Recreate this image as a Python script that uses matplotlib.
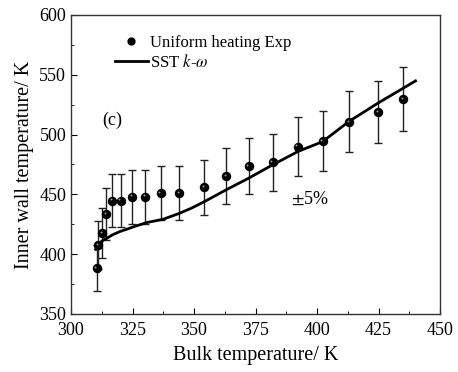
import matplotlib
matplotlib.use("Agg")
import matplotlib.pyplot as plt
import numpy as np

plt.rcParams['font.family'] = ['Liberation Serif', 'DejaVu Serif']
plt.rcParams['mathtext.fontset'] = 'stix'

# experimental points (uniform heating)
exp_x = [310.4, 311.1, 312.5, 314.2, 316.8, 320.2, 324.7, 330.2, 336.4, 343.9,
         354.2, 363.0, 372.2, 381.9, 392.1, 402.2, 413.0, 424.7, 435.1]
exp_y = [388.5, 407.7, 417.5, 433.4, 444.7, 444.7, 448.0, 448.0, 450.9, 450.9,
         455.9, 465.4, 473.7, 476.8, 489.9, 494.6, 510.5, 518.6, 529.8]
err_pct = 0.05

# SST k-omega prediction
sst_x = [310.0, 310.8, 312.0, 313.2, 314.5, 317.0, 320.0, 322.6, 326.0, 330.8,
         337.5, 343.9, 349.0, 354.2, 363.0, 372.2, 381.9, 392.4, 402.2, 413.0,
         424.7, 440.0]
sst_y = [404.0, 407.5, 410.0, 411.8, 413.2, 416.3, 419.0, 420.8, 423.3, 426.4,
         429.2, 434.0, 438.5, 443.9, 453.7, 463.5, 474.6, 486.0, 494.0, 511.0,
         526.2, 544.8]

fig = plt.figure(figsize=(4.58, 3.72), dpi=100)
ax = fig.add_axes([0.155, 0.156, 0.806, 0.804])

yerr = [v * err_pct for v in exp_y]
ax.errorbar(exp_x, exp_y, yerr=yerr, fmt='none', ecolor='#222222',
            elinewidth=1.0, capsize=3, capthick=1.0, zorder=2)
ax.plot(sst_x, sst_y, color='black', linewidth=2.0, zorder=3,
        label='SST $k$-$\\omega$')
ax.plot(exp_x, exp_y, 'o', color='black', markersize=5.8, zorder=4,
        label='Uniform heating Exp')
# small highlight at the upper left of each sphere
ax.plot(np.array(exp_x) - 0.5, np.array(exp_y) + 1.1, 'o', color='#9a9a9a',
        markersize=1.4, markeredgewidth=0, zorder=5)

ax.set_xlim(300, 450)
ax.set_ylim(350, 600)
ax.set_xticks([300, 325, 350, 375, 400, 425, 450])
ax.set_yticks([350, 400, 450, 500, 550, 600])
ax.set_xticks(np.arange(312.5, 450, 25), minor=True)
ax.set_yticks(np.arange(375, 600, 25), minor=True)
ax.tick_params(which='both', direction='in', top=False, right=False,
               labelsize=13)
ax.tick_params(axis='x', which='major', pad=6)
ax.tick_params(which='major', length=4)
ax.tick_params(which='minor', length=2.5)
for s in ax.spines.values():
    s.set_linewidth(1.0)
    s.set_color('#333333')

ax.set_xlabel('Bulk temperature/ K', fontsize=14.5, labelpad=5)
ax.set_ylabel('Inner wall temperature/ K', fontsize=14.5, labelpad=4)

handles, labels = ax.get_legend_handles_labels()
leg = ax.legend(handles[::-1][:2], labels[::-1][:2], loc='upper left',
                frameon=False, fontsize=12, handlelength=2.0,
                handletextpad=0.15, borderaxespad=0.0, labelspacing=0.15,
                markerscale=0.85, bbox_to_anchor=(0.1, 0.955))

ax.text(312.5, 512, '(c)', fontsize=13, va='center')
ax.text(389.5, 446, '$\\pm$5%', fontsize=13, va='center')

fig.savefig('out.png', dpi=100)
